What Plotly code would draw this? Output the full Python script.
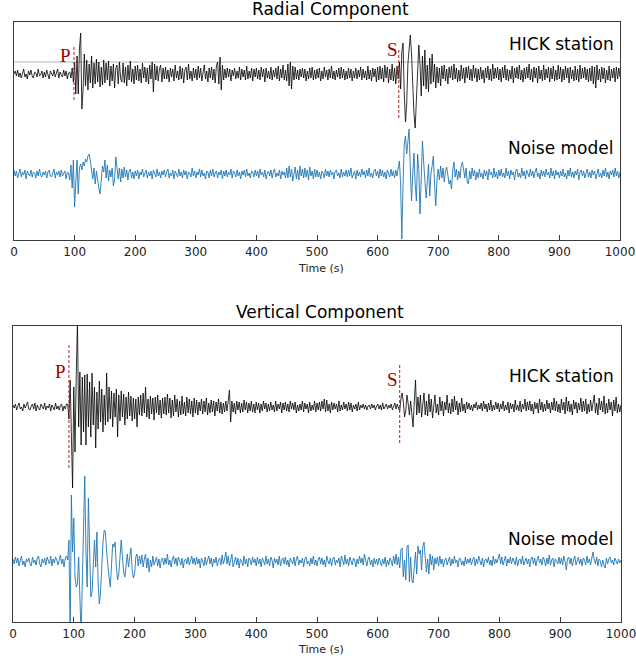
import plotly.graph_objects as go

# ---------------- data (sample every 2 s, 0..1000 s) ----------------
T = list(range(0, 1001, 2))

RADIAL_HICK = [
 0,3,-2,4,-3, 1,-4,2,5,-3, 0,-5,3,-1,4, -2,-4,2,1,-3, 5,-2,-1,3,-4,
 2,-3,4,-1,-5, 3,0,-2,4,-3, 1,5,-4,2,-1, -3,4,-2,3,-5, 1,2,-4,6,-8,
 12,-20,18,-20,25, 41,-35,-15,20,-12, 14,-16,10,-9,18, -14,11,-10,15,-8, 12,-13,7,-11,14,
 -9,11,-6,13,-12, 8,-7,10,-14,6, 9,-10,12,-5,-8, 11,-9,7,-12,9, -6,13,-8,5,-10,
 8,-6,9,-7,5, -9,11,-4,7,-8, 6,-10,9,-5,12, -18,10,-6,8,-7, 5,9,-8,6,-5,
 7,-5,4,-8,6, -3,5,-7,9,-4, 3,-6,8,-5,6, -9,4,7,-6,10, -5,3,-7,6,-4,
 5,-6,8,-4,6, -7,4,9,-5,3, -8,6,-4,7,-6, 5,-9,8,12,-10, 17,-16,9,-6,5,
 -4,6,-3,5,-7, 4,-2,6,-5,3, -4,7,-6,5,-3, 4,-6,8,-5,3, -4,6,-7,5,-3,
 6,-5,4,-6,7, -3,5,-8,6,-4, 3,-5,7,-6,4, -3,6,-5,8,-7, 5,-4,9,-6,4,
 -7,10,-12,12,-15, 8,-6,7,-5,4, -6,5,-3,6,-4, 5,-7,3,-5,6, -4,7,-6,4,-5,
 5,-4,6,-7,3, -5,7,-3,4,-6, 5,-4,8,-5,3, -6,4,-3,6,-5, 7,-4,5,-6,3,
 -5,6,-4,5,-7, 3,-4,6,-5,4, -3,7,-6,5,-4, 3,-6,8,-5,4, -7,6,-3,5,-8,
 7,-6,8,-5,6, -8,9,-4,7,-9, 5,-6,10,-7,6, -10,8,-5,12,-15, 22,31,-20,-48,-30,
 10,25,39,20,-15, -40,-54,-20,15,29, 10,-22,18,-12,24, -15,9,-18,16,-10, 20,-8,10,-14,7,
 -9,6,-12,8,-5, 9,-7,5,-10,7, -4,8,-6,10,-5, 6,-8,4,-7,9, -5,6,-9,7,-4,
 8,-6,5,-7,9, -4,6,-8,5,-6, 7,-5,4,-9,6, -4,8,-6,5,-7, 10,-5,6,-4,7,
 -6,5,-8,7,-4, 9,-6,5,-7,4, -5,8,-9,6,-4, 7,-5,9,-6,4, -8,6,-5,7,-4,
 10,-6,5,-8,7, -4,6,-9,8,-5, 4,-7,9,-6,5, -4,7,-8,6,-5, 8,-7,4,-6,9,
 -5,7,-8,5,-6, 8,-4,6,-9,7, -5,4,-7,8,-6, 5,-8,9,-5,6, -4,7,-6,5,-8,
 6,-7,8,-10,7, -14,9,-6,5,-8, 7,-5,6,-9,4, -6,8,-7,5,-4, 6,-8,7,-5,6,
 -3]

RADIAL_NOISE = [
 4,-2,3,-4,1, 5,-3,2,-1,4, -5,3,0,-2,4, -3,2,1,-4,3, -2,5,-1,-3,2,
 -1,3,-4,2,4, -2,-3,1,5,-4, 2,-1,3,-3,4, -2,0,3,-5,2, 1,-6,9,-14,14,
 -33,-8,14,-20,6, 10,4,12,8,15, 12,18,20,13,4, -5,6,-10,3,-8, -14,-20,-6,8,2,
 14,-4,9,-7,4, -3,6,-12,-6,17, 8,-5,6,-8,5, -4,7,-3,4,-6, 3,5,-4,2,-5,
 3,-2,4,-5,2, -1,5,-3,1,4, -4,2,-2,3,-5, 4,1,-3,5,-2, 2,-4,3,-1,4,
 -3,2,5,-4,1, -2,4,-5,3,0, -3,5,-2,2,-4, 4,-1,3,-5,2, 1,-3,6,-2,3,
 -4,2,-1,5,-3, 4,-2,1,-5,3, 2,-4,4,-2,5, -3,1,3,-4,2, -1,4,-5,3,-2,
 4,-3,2,-1,5, -4,3,1,-3,4, -2,2,-5,3,-1, 4,-3,5,-2,1, -4,3,2,-3,4,
 -2,3,-4,5,-1, 2,-3,4,-5,1, 3,-2,4,-4,2, 5,-3,1,-2,4, -5,3,-1,2,-4,
 6,-4,8,-3,5, -7,3,7,-5,4, -6,8,-2,5,-4, 6,-3,4,-6,7, -2,3,-5,5,-3,
 4,-3,2,-5,3, 1,-4,5,-2,3, -3,4,-1,2,-5, 3,4,-2,1,-4, 5,-3,2,-2,4,
 -3,4,-2,6,-4, 1,3,-5,4,-2, 2,-3,5,-1,3, -4,4,-2,6,-3, 1,-4,3,5,-2,
 3,-4,5,-2,4, -3,2,-5,4,1, -3,5,-2,3,-4, 4,-2,6,13,-10, -65,-10,30,38,20,
 32,45,5,-27,0, 21,-10,-27,20,5, -40,10,33,12,-5, -24,-8,10,-22,0, 8,18,-10,-32,-5,
 5,-6,8,-4,6, -8,3,7,-5,-10, -6,-15,4,12,-3, 5,-6,3,-4,8, 12,2,-4,6,-8,
 -10,3,-5,6,-2, 4,-6,2,-4,5, -3,1,-5,4,-2, 3,-6,5,-1,2, -4,6,-3,2,-5,
 4,-2,5,-3,1, -4,6,-2,3,-5, 4,-1,2,-6,3, 5,-3,1,-4,6, -2,3,-5,4,-1,
 -3,5,-2,3,-4, 2,6,-3,1,-5, 4,-2,3,-3,5, -1,2,-4,6,-2, 3,-5,4,-1,2,
 -4,3,-2,5,-3, 1,-5,4,-2,6, -3,2,-4,3,-1, 5,-6,2,4,-2, 3,-4,1,5,-3,
 2,-4,4,-1,3, -5,2,5,-3,1, -4,4,-2,6,-3, 2,-5,3,-1,4, -3,6,-2,3,-4,
 2]

VERTICAL_HICK = [
 2,-1,3,-3,1, 4,-2,0,-4,3, -1,2,5,-2,-3, 1,3,-2,4,-4, 2,-1,-3,3,1,
 -2,4,-3,1,-1, 3,-4,2,0,-3, 4,-2,1,-3,2, 3,-4,1,-2,3, 3,-12,27,-30,-81,
 20,-45,30,85,-20, 35,-38,30,-25,32, -38,33,-20,25,-30, 34,-18,20,-41,15, -22,26,-15,18,-25,
 12,-18,34,-15,20, -12,16,-20,14,-10, 18,-30,12,-14,16, -10,13,-18,10,-12, 15,-9,11,-14,9,
 -12,8,-20,10,-8, 12,-9,14,-6,20, -10,8,-12,11,-7, 9,-13,10,-6,12, -8,7,-11,9,-7,
 10,-8,13,-6,9, -11,7,-9,12,-5, 8,-10,6,-8,11, -7,5,-9,10,-6, 8,-7,6,-10,9,
 -6,7,-8,5,-4, 8,-7,6,-5,9, -8,4,-6,7,-5, 6,-9,5,-4,8, -6,5,-7,4,-5,
 6,-4,5,17,-15, 6,-5,4,-7,6, -3,5,-6,4,-5, 7,-3,5,-6,4, -4,6,-5,3,-6,
 5,-3,4,-6,3, -4,6,-2,4,-5, 3,-4,5,-3,2, -5,6,-4,3,-2, 5,-6,4,-3,5,
 -4,3,-5,6,-2, 4,-3,5,-6,2, -4,3,-3,6,-5, 4,-2,3,-6,5, -4,2,-3,6,-5,
 4,-3,5,-4,6, -2,8,-5,7,-4, 3,-6,5,-3,4, -2,3,-5,6,-4, 2,-3,5,-2,3,
 -4,5,-3,4,-5, 2,-2,3,-4,5, -3,2,-1,3,-2, 2,-3,1,2,-2, 3,-1,2,-3,1,
 3,-2,2,-3,4, -2,1,3,-2,2, -1,3,-3,2,4, -2,3,-1,-4,8, 14,5,-10,-4,12,
 3,-8,6,-12,-20, 5,27,-8,10,-6, 12,-10,4,14,-8, 6,-9,13,-5,8, -11,5,12,-6,3,
 -8,10,-4,6,-9, 5,-3,12,-6,4, -7,8,-5,11,-3, 6,-8,4,-5,9, -4,3,-6,5,-2,
 4,-3,2,-4,3, -1,5,-3,2,-2, 4,-4,6,-2,3, -5,4,-3,7,-4, 2,-3,5,-2,4,
 -5,3,-2,6,-4, 2,-3,5,-6,4, -2,3,-5,7,-3, 2,-4,6,-5,3, -2,8,-4,5,-3,
 6,-4,3,-7,5, -2,4,-6,8,-3, 5,-5,3,-4,7, -2,4,-6,5,-3, 9,-4,6,-5,3,
 -6,8,-3,5,-7, 10,-4,6,-5,3, -8,7,-2,5,-6, 4,-3,9,-5,6, -4,8,-7,3,-5,
 7,-4,5,12,-6, 4,-8,9,-3,6, -5,11,-7,4,-6, 8,-3,5,-9,7, -4,10,-6,3,-5,
 2]

VERTICAL_NOISE = [
 3,-2,5,-1,4, -4,2,6,-3,1, -5,3,0,4,-2, -4,5,-1,2,-3, 4,6,-2,-5,3,
 -1,4,-3,5,2, -2,6,-4,3,-1, 5,2,-3,4,7, -2,3,-5,4,6, 2,22,-75,67,10,
 44,-15,-25,-22,5, -40,-75,-20,40,86, 10,-25,64,5,-35, -30,-10,22,-5,30, -20,-42,-30,5,20,
 32,30,10,-5,-15, -25,5,18,15,20, -5,-18,-12,10,22, 5,-10,-15,0,8, -5,3,14,-8,-16,
 -12,5,8,-4,6, -2,7,-5,3,8, -6,4,-10,2,-5, 6,-3,2,5,-4, 3,-6,2,4,-3,
 4,-2,8,-3,2, -5,3,6,-2,4, -4,5,1,-3,4, -6,2,3,-2,5, -3,1,6,-2,4,
 -3,5,-2,3,-6, 4,1,-4,5,-3, 2,6,-2,4,-5, 3,-1,5,-4,2, 4,-3,7,-2,3,
 10,-2,6,-4,3, 8,-5,2,5,-3, 4,-6,3,1,-4, 6,-2,3,-5,4, 2,-3,5,-1,3,
 -4,5,-2,3,-5, 4,1,-3,6,-2, 3,-4,5,2,-6, 4,-1,3,-3,6, -4,2,4,-2,5,
 -3,2,-5,4,1, -2,5,-4,3,6, -3,2,-1,4,-5, 3,5,-2,1,-4, 4,-2,6,-3,2,
 -4,3,5,-2,4, -3,2,-5,6,1, -2,4,-4,3,5, -3,2,-1,4,-5, 6,2,-3,7,-2,
 3,-4,5,1,-3, 4,2,-5,3,-2, 6,-1,4,-3,8, 2,-4,3,5,-3, 2,-5,4,-2,3,
 -3,4,1,-4,3, -2,5,-5,2,-3, 4,1,-4,6,-2, 8,-3,5,-6,12, 14,-15,2,-18,15,
 17,-20,5,-18,-21, -5,10,-12,16,8, 12,-8,15,20,5, -10,3,-12,8,-3, 6,-8,4,-2,5,
 -4,6,-2,3,-5, 2,4,-3,1,5, -4,3,-2,6,-1, 2,-5,4,3,-3, 1,-4,5,-2,3,
 -1,4,-3,2,5, -4,3,-2,6,1, -3,4,-5,2,3, -1,5,-3,2,-4, 6,-2,3,-1,4,
 8,-2,5,-3,2, 6,-4,3,-1,5, -2,4,1,-3,5, -4,2,3,-2,6, -3,1,4,-2,3,
 -5,3,5,-2,4, -4,2,6,-1,3, -3,5,2,-4,4, -2,7,-3,2,4, -5,3,1,-2,5,
 -2,4,-3,6,1, -8,3,5,-2,4, -4,2,6,-3,1, 5,-2,3,-4,4, 2,-3,6,-1,3,
 -3,4,10,2,-2, 5,-4,3,1,-5, 2,-3,-6,4,-2, 3,5,-1,2,-3, 4,1,-2,3,-1,
 2]

# trace baselines (vertical offsets within each panel)
TOP_OFFSETS = {"hick": 166, "noise": 66, "ref": 178}
BOT_OFFSETS = {"hick": 215, "noise": 60}
# phase picks: (label, time, y_low, y_high)
TOP_PICKS = [("P", 99, 140, 195), ("S", 635, 122, 192)]
BOT_PICKS = [("P", 92, 154, 278), ("S", 636, 179, 259)]
XTICKS = list(range(0, 1001, 100))

W, H = 636, 661
# measured rendering of the paper in the viewer: starts at x0 px, spans pw px
X0, PW = 4.0, 617.0

def fx(px):
    return (px - X0) / PW

BLACK = "#000000"
BLUE = "#1f77b4"
RED = "#b22222"
AX = "#3a3a3a"

fig = go.Figure()

def add_trace(vals, off, color, width, xa, ya):
    fig.add_trace(go.Scatter(x=T, y=[v + off for v in vals], mode="lines",
                             line=dict(color=color, width=width),
                             xaxis=xa, yaxis=ya, showlegend=False, hoverinfo="skip"))

add_trace(RADIAL_HICK, TOP_OFFSETS["hick"], BLACK, 0.8, "x", "y")
add_trace(RADIAL_NOISE, TOP_OFFSETS["noise"], BLUE, 0.9, "x", "y")
add_trace(VERTICAL_HICK, BOT_OFFSETS["hick"], BLACK, 0.8, "x2", "y2")
add_trace(VERTICAL_NOISE, BOT_OFFSETS["noise"], BLUE, 0.9, "x2", "y2")

fig.add_shape(type="line", xref="x", yref="y", x0=0, x1=1000,
              y0=TOP_OFFSETS["ref"], y1=TOP_OFFSETS["ref"],
              line=dict(color="#a0a0a0", width=0.8), layer="below")

for picks, xr, yr in [(TOP_PICKS, "x", "y"), (BOT_PICKS, "x2", "y2")]:
    for lab, t, y0, y1 in picks:
        fig.add_shape(type="line", xref=xr, yref=yr, x0=t, x1=t, y0=y0, y1=y1,
                      line=dict(color=RED, width=1, dash="3px,2px"))

def ann(text, px, py, size, color="#000000", family="DejaVu Sans", xanchor="center"):
    fig.add_annotation(text=text, xref="paper", yref="paper",
                       x=fx(px), y=1 - py / H, xanchor=xanchor, yanchor="middle",
                       showarrow=False, font=dict(size=size, color=color, family=family))

ann("Radial Component", 330, 9, 17)
ann("Vertical Component", 320, 312, 17)
ann("HICK station", 616, 44, 17, xanchor="right")
ann("Noise model", 616, 148, 17, xanchor="right")
ann("HICK station", 616, 376, 17, xanchor="right")
ann("Noise model", 616, 539, 17, xanchor="right")
ann("P", 65, 56, 19, color="#a00000", family="Liberation Serif")
ann("S", 392, 50, 19, color="#a00000", family="Liberation Serif")
ann("P", 60, 372, 19, color="#a00000", family="Liberation Serif")
ann("S", 392, 379, 19, color="#a00000", family="Liberation Serif")
ann("Time (s)", 321, 268, 11, color="#222222")
ann("Time (s)", 321, 649, 11, color="#222222")

xcommon = dict(range=[0, 1000], tickvals=XTICKS, ticktext=[str(v) for v in XTICKS],
               ticks="inside", ticklen=5, tickwidth=1, tickcolor=AX,
               showline=True, linecolor=AX, linewidth=1.3, mirror=True,
               showgrid=False, zeroline=False, ticklabeloverflow="allow",
               tickfont=dict(size=12, family="DejaVu Sans", color="#222222"))
ycommon = dict(showticklabels=False, ticks="", showline=True, linecolor=AX,
               linewidth=1.3, mirror=True, showgrid=False, zeroline=False)

fig.update_layout(
    width=W, height=H, margin=dict(l=0, r=0, t=0, b=0),
    paper_bgcolor="white", plot_bgcolor="white",
    xaxis=dict(domain=[fx(14), min(1.0, fx(620))], anchor="y", **xcommon),
    yaxis=dict(domain=[(H - 240) / H, (H - 22) / H], range=[0, 218], anchor="x", **ycommon),
    xaxis2=dict(domain=[fx(13), min(1.0, fx(621))], anchor="y2", **xcommon),
    yaxis2=dict(domain=[(H - 622) / H, (H - 326) / H], range=[0, 296], anchor="x2", **ycommon),
)

POST = ("var st=document.createElement('style');"
        "st.textContent='svg.main-svg{overflow:visible !important}"
        ".svg-container,.plot-container,.plotly-graph-div{overflow:visible !important}';"
        "document.head.appendChild(st);")

fig.write_html("out.html", post_script=POST)
